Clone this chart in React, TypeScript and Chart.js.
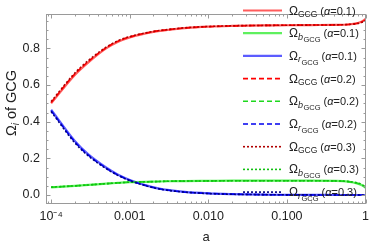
import React, { useEffect, useRef } from "react";
import { Chart, registerables } from "chart.js";
Chart.register(...registerables);

// ---- data ----
const aValues = [1e-4, 2e-4, 3e-4, 5e-4, 7e-4, 1e-3, 2e-3, 3e-3, 5e-3, 1e-2, 2e-2, 5e-2, 0.1, 0.2, 0.4, 0.6, 0.8, 0.9, 1];

const omegaGCG_a01 = [0.5, 0.655, 0.725, 0.8, 0.835, 0.86, 0.89, 0.9, 0.91, 0.918, 0.922, 0.925, 0.926, 0.927, 0.928, 0.93, 0.938, 0.946, 0.96];
const omegaB_a01 = [0.042, 0.05, 0.055, 0.062, 0.066, 0.07, 0.073, 0.075, 0.076, 0.077, 0.078, 0.078, 0.078, 0.078, 0.077, 0.073, 0.062, 0.053, 0.04];
const omegaR_a01 = [0.465, 0.295, 0.22, 0.15, 0.112, 0.082, 0.042, 0.028, 0.017, 0.009, 0.005, 0.002, 0.001, 0.0005, 0.0002, 0.0001, 0, 0, 0];

const omegaGCG_a02 = [0.505, 0.66, 0.73, 0.803, 0.838, 0.862, 0.891, 0.901, 0.911, 0.918, 0.922, 0.925, 0.926, 0.927, 0.928, 0.93, 0.937, 0.944, 0.955];
const omegaB_a02 = [0.042, 0.05, 0.055, 0.062, 0.066, 0.07, 0.073, 0.075, 0.076, 0.077, 0.078, 0.078, 0.078, 0.078, 0.077, 0.073, 0.063, 0.055, 0.043];
const omegaR_a02 = [0.46, 0.29, 0.216, 0.147, 0.11, 0.08, 0.041, 0.027, 0.016, 0.009, 0.005, 0.002, 0.001, 0.0005, 0.0002, 0.0001, 0, 0, 0];

const omegaGCG_a03 = [0.51, 0.665, 0.735, 0.806, 0.841, 0.864, 0.892, 0.902, 0.912, 0.919, 0.923, 0.925, 0.926, 0.927, 0.928, 0.93, 0.936, 0.942, 0.95];
const omegaB_a03 = [0.043, 0.05, 0.055, 0.062, 0.066, 0.07, 0.073, 0.075, 0.076, 0.077, 0.078, 0.078, 0.078, 0.078, 0.077, 0.074, 0.065, 0.057, 0.046];
const omegaR_a03 = [0.455, 0.285, 0.212, 0.144, 0.108, 0.079, 0.04, 0.026, 0.016, 0.008, 0.004, 0.002, 0.001, 0.0005, 0.0002, 0.0001, 0, 0, 0];

const xTickValues = [1e-4, 1e-3, 1e-2, 1e-1, 1];
const xTickLabels = ["10\u207B\u2074", "0.001", "0.010", "0.100", "1"];
const yTickValues = [0, 0.2, 0.4, 0.6, 0.8];
const yTickLabels = ["0.0", "0.2", "0.4", "0.6", "0.8"];

const seriesSubs = ["", "b", "r", "", "b", "r", "", "b", "r"];
const seriesAlpha = ["0.1", "0.1", "0.1", "0.2", "0.2", "0.2", "0.3", "0.3", "0.3"];
const seriesData = [omegaGCG_a01, omegaB_a01, omegaR_a01, omegaGCG_a02, omegaB_a02, omegaR_a02, omegaGCG_a03, omegaB_a03, omegaR_a03];
const seriesColors = ["#ff5c5c", "#5ef05e", "#5c5cff", "#ff0000", "#1ed81e", "#0000ee", "#b00000", "#10c010", "#000080"];
const seriesDash: number[][] = [[], [], [], [5, 3], [5, 3], [5, 3], [2, 2], [2, 2], [2, 2]];
const seriesWidth = [2.2, 2.2, 2.2, 1.6, 1.6, 1.6, 1.6, 1.6, 1.6];

const FONT = "'Liberation Sans', Arial, sans-serif";

function drawSubText(ctx: CanvasRenderingContext2D, x: number, y: number, sub: string, alpha: string) {
  ctx.fillStyle = "#222";
  ctx.textBaseline = "alphabetic";
  ctx.textAlign = "left";
  ctx.font = `12px ${FONT}`;
  ctx.fillText("\u03A9", x, y + 4);
  x += ctx.measureText("\u03A9").width;
  if (sub) {
    ctx.font = `italic 9px ${FONT}`;
    ctx.fillText(sub, x, y + 6.5);
    x += ctx.measureText(sub).width + 0.5;
    ctx.font = `7.5px ${FONT}`;
    ctx.fillText("GCG", x, y + 9);
    x += ctx.measureText("GCG").width;
  } else {
    ctx.font = `8.5px ${FONT}`;
    ctx.fillText("GCG", x, y + 6.5);
    x += ctx.measureText("GCG").width;
  }
  x += 3;
  ctx.font = `11px ${FONT}`;
  ctx.fillText("(", x, y + 4);
  x += ctx.measureText("(").width;
  ctx.font = `italic 11px ${FONT}`;
  ctx.fillText("\u03B1", x, y + 4);
  x += ctx.measureText("\u03B1").width;
  ctx.font = `11px ${FONT}`;
  ctx.fillText("=" + alpha + ")", x, y + 4);
}

const framePlugin = {
  id: "frameAndLegend",
  afterDraw(chart: any) {
    const { ctx, chartArea: ca, scales } = chart;
    const xs = scales.x;
    const ys = scales.y;
    ctx.save();
    const L = Math.round(ca.left) + 0.5;
    const R = Math.round(ca.right) - 0.5;
    const T = Math.round(ca.top) + 0.5;
    const B = Math.round(ca.bottom) - 0.5;
    ctx.strokeStyle = "#9a9a9a";
    ctx.lineWidth = 1;
    ctx.strokeRect(L, T, R - L, B - T);
    ctx.beginPath();
    for (let e = -5; e <= 0; e++) {
      for (let m = 1; m <= 9; m++) {
        const v = m * Math.pow(10, e);
        if (v < xs.min || v > xs.max) continue;
        const px = Math.round(xs.getPixelForValue(v)) + 0.5;
        const len = m === 1 ? 4 : 2;
        ctx.moveTo(px, B); ctx.lineTo(px, B - len);
        ctx.moveTo(px, T); ctx.lineTo(px, T + len);
      }
    }
    for (let i = -1; i <= 19; i++) {
      const v = i * 0.05;
      if (v < ys.min || v > ys.max) continue;
      const py = Math.round(ys.getPixelForValue(v)) + 0.5;
      const len = i % 4 === 0 ? 4 : 2;
      ctx.moveTo(L, py); ctx.lineTo(L + len, py);
      ctx.moveTo(R, py); ctx.lineTo(R - len, py);
    }
    ctx.stroke();

    // legend
    for (let i = 0; i < seriesData.length; i++) {
      const y = 10.5 + i * 22.7;
      ctx.beginPath();
      ctx.strokeStyle = seriesColors[i];
      ctx.lineWidth = seriesWidth[i];
      ctx.setLineDash(seriesDash[i]);
      ctx.moveTo(243, y);
      ctx.lineTo(282, y);
      ctx.stroke();
      ctx.setLineDash([]);
      drawSubText(ctx, 289, y, seriesSubs[i], seriesAlpha[i]);
    }

    // axis titles
    ctx.fillStyle = "#222";
    ctx.font = `13px ${FONT}`;
    ctx.textAlign = "center";
    ctx.textBaseline = "middle";
    ctx.fillText("a", (ca.left + ca.right) / 2, 237);

    ctx.save();
    ctx.translate(10.5, 103);
    ctx.rotate(-Math.PI / 2);
    ctx.textBaseline = "alphabetic";
    ctx.textAlign = "left";
    ctx.font = `14.5px ${FONT}`;
    const w1 = ctx.measureText("\u03A9").width;
    ctx.font = `italic 10px ${FONT}`;
    const w2 = ctx.measureText("i").width;
    ctx.font = `14.5px ${FONT}`;
    const w3 = ctx.measureText(" of GCG").width;
    let x = -(w1 + w2 + w3) / 2;
    ctx.fillText("\u03A9", x, 5);
    x += w1;
    ctx.font = `italic 10px ${FONT}`;
    ctx.fillText("i", x, 8.5);
    x += w2;
    ctx.font = `14.5px ${FONT}`;
    ctx.fillText(" of GCG", x, 5);
    ctx.restore();
    ctx.restore();
  },
};

export default function App() {
  const ref = useRef<HTMLCanvasElement>(null);
  useEffect(() => {
    if (!ref.current) return;
    const datasets = seriesData.map((d, i) => ({
      label: "series" + i,
      data: d.map((v, j) => ({ x: aValues[j], y: v })),
      borderColor: seriesColors[i],
      borderWidth: seriesWidth[i],
      borderDash: seriesDash[i],
      pointRadius: 0,
      fill: false,
      cubicInterpolationMode: "monotone" as const,
      order: -i,
    }));
    const chart = new Chart(ref.current, {
      type: "line",
      data: { datasets },
      options: {
        animation: false,
        responsive: false,
        maintainAspectRatio: false,
        layout: { padding: { left: 0, right: 5, top: 4, bottom: 0 } },
        plugins: { legend: { display: false }, tooltip: { enabled: false } },
        scales: {
          x: {
            type: "logarithmic",
            min: 8.6e-5,
            max: 1.02,
            afterBuildTicks: (s: any) => {
              s.ticks = xTickValues.map((v) => ({ value: v }));
            },
            afterFit: (s: any) => {
              s.height = 44;
            },
            ticks: {
              autoSkip: false,
              maxRotation: 0,
              padding: 5,
              color: "#222",
              font: { family: FONT, size: 12.5 },
              callback: (_v: any, idx: number) => xTickLabels[idx],
            },
            grid: { display: false, drawTicks: false },
            border: { display: false },
          },
          y: {
            type: "linear",
            min: -0.049,
            max: 0.99,
            afterBuildTicks: (s: any) => {
              s.ticks = yTickValues.map((v) => ({ value: v }));
            },
            afterFit: (s: any) => {
              s.width = 46;
            },
            ticks: {
              autoSkip: false,
              padding: 6,
              color: "#222",
              font: { family: FONT, size: 12.5 },
              callback: (_v: any, idx: number) => yTickLabels[idx],
            },
            grid: { display: false, drawTicks: false },
            border: { display: false },
          },
        },
      },
      plugins: [framePlugin],
    });
    return () => chart.destroy();
  }, []);
  return (
    <div style={{ position: "fixed", left: 0, top: 0, width: 374, height: 248 }}>
      <canvas ref={ref} width={374} height={248} style={{ width: 374, height: 248 }} />
    </div>
  );
}
